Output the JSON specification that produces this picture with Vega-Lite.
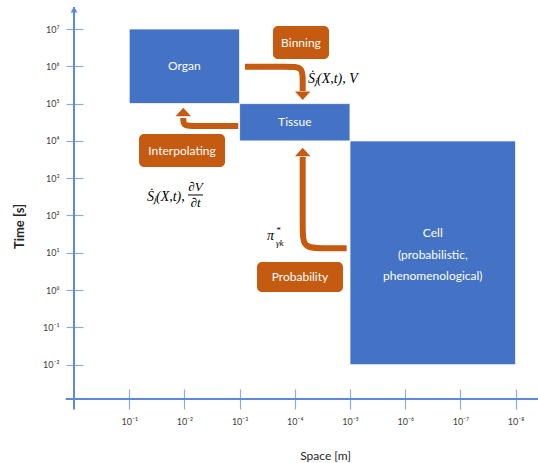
{
  "$schema": "https://vega.github.io/schema/vega-lite/v6.json",
  "width": 464,
  "height": 392,
  "autosize": {"type": "none"},
  "padding": {"left": 74, "top": 7, "right": 0, "bottom": 64},
  "background": "#ffffff",
  "config": {
    "view": {"stroke": null},
    "axis": {
      "labelFont": "Lato", "labelFontSize": 9, "labelColor": "#404040",
      "titleFont": "Lato", "titleFontSize": 12, "titleFontWeight": "normal", "titleColor": "#262626",
      "grid": false, "domain": false, "tickColor": "#8FAADC", "tickWidth": 1.2
    }
  },
  "datasets": {
    "vline": [{"space": 0, "time": 7.59, "time2": -3.2}],
    "hline": [{"space": 0.15, "space2": -8.406, "time": -2.92}],
    "yarrow": [{"space": 0, "time": 7.5}],
    "boxes": [
      {"name": "Organ", "space": -1, "space2": -3, "time": 5, "time2": 7},
      {"name": "Tissue", "space": -3, "space2": -5, "time": 4, "time2": 5},
      {"name": "Cell", "space": -5, "space2": -8, "time": -2, "time2": 4}
    ],
    "boxLabels": [
      {"label": "Organ", "space": -2, "time": 6},
      {"label": "Tissue", "space": -4, "time": 4.5},
      {"label": "Cell\n(probabilistic,\nphenomenological)", "space": -6.5, "time": 1.53}
    ],
    "tags": [
      {"label": "Binning", "space": -3.605, "space2": -4.62, "time": 7.08, "time2": 6.196},
      {"label": "Interpolating", "space": -1.178, "space2": -2.736, "time": 4.185, "time2": 3.3},
      {"label": "Probability", "space": -3.315, "space2": -4.873, "time": 0.753, "time2": -0.051}
    ],
    "tagLabels": [
      {"label": "Binning", "space": -4.112, "time": 6.638},
      {"label": "Interpolating", "space": -1.957, "time": 3.742},
      {"label": "Probability", "space": -4.094, "time": 0.351}
    ],
    "arrows": [
      {"arrow": "binning", "i": 0, "space": -3.098, "time": 5.989},
      {"arrow": "binning", "i": 1, "space": -3.899, "time": 5.989},
      {"arrow": "binning", "i": 2, "space": -4.143, "time": 5.989},
      {"arrow": "binning", "i": 3, "space": -4.143, "time": 5.614},
      {"arrow": "binning", "i": 4, "space": -4.143, "time": 5.338},
      {"arrow": "interpolating", "i": 0, "space": -2.976, "time": 4.399},
      {"arrow": "interpolating", "i": 1, "space": -2.161, "time": 4.399},
      {"arrow": "interpolating", "i": 2, "space": -1.98, "time": 4.399},
      {"arrow": "interpolating", "i": 3, "space": -1.98, "time": 4.614},
      {"arrow": "probability", "i": 0, "space": -4.94, "time": 1.121},
      {"arrow": "probability", "i": 1, "space": -4.505, "time": 1.121},
      {"arrow": "probability", "i": 2, "space": -4.143, "time": 1.121},
      {"arrow": "probability", "i": 3, "space": -4.143, "time": 1.657},
      {"arrow": "probability", "i": 4, "space": -4.143, "time": 3.568}
    ],
    "heads": [
      {"arrow": "binning", "dir": "down", "space": -4.143, "time": 5.209},
      {"arrow": "interpolating", "dir": "up", "space": -1.98, "time": 4.775},
      {"arrow": "probability", "dir": "up", "space": -4.143, "time": 3.702}
    ],
    "mathMain": [
      {"text": "Ṡⱼ(X,t), V", "space": -4.239, "time": 5.66},
      {"text": "Ṡⱼ(X,t),", "space": -1.322, "time": 2.509},
      {"text": "π", "space": -3.496, "time": 1.45}
    ],
    "mathFrac": [
      {"text": "∂V", "space": -2.201, "time": 2.772},
      {"text": "∂t", "space": -2.201, "time": 2.335}
    ],
    "fracBar": [{"space": -2.065, "space2": -2.337, "time": 2.55}],
    "mathSmall": [
      {"text": "*", "space": -3.66, "time": 1.611},
      {"text": "γk", "space": -3.659, "time": 1.263}
    ]
  },
  "encoding": {
    "x": {
      "field": "space", "type": "quantitative",
      "scale": {"domain": [-8.406, 0], "reverse": true, "nice": false, "zero": false},
      "axis": {
        "orient": "bottom", "values": [-1, -2, -3, -4, -5, -6, -7, -8],
        "labelExpr": "'10' + (datum.value < 0 ? '⁻' : '') + substring('⁰¹²³⁴⁵⁶⁷⁸⁹', abs(datum.value), abs(datum.value) + 1)",
        "offset": -10, "tickSize": 20, "labelPadding": 8,
        "title": "Space [m]", "titleX": 251, "titlePadding": 24
      }
    },
    "y": {
      "field": "time", "type": "quantitative",
      "scale": {"domain": [-2.92, 7.59], "nice": false, "zero": false},
      "axis": {
        "orient": "left", "values": [-2, -1, 0, 1, 2, 3, 4, 5, 6, 7],
        "labelExpr": "'10' + (datum.value < 0 ? '⁻' : '') + substring('⁰¹²³⁴⁵⁶⁷⁸⁹', abs(datum.value), abs(datum.value) + 1)",
        "offset": -9, "tickSize": 17, "labelPadding": 7,
        "title": "Time [s]", "titleY": 219, "titlePadding": 16,
        "titleFontSize": 13, "titleFontWeight": "bold"
      }
    }
  },
  "layer": [
    {
      "data": {"name": "vline"},
      "mark": {"type": "rule", "color": "#5B8BD5", "strokeWidth": 2},
      "encoding": {"y2": {"field": "time2"}}
    },
    {
      "data": {"name": "hline"},
      "mark": {"type": "rule", "color": "#5B8BD5", "strokeWidth": 2},
      "encoding": {"x2": {"field": "space2"}}
    },
    {
      "data": {"name": "yarrow"},
      "mark": {"type": "point", "filled": true, "color": "#5B8BD5", "opacity": 1, "shape": "M-1,0.6L1,0.6L0,-1Z", "size": 49},
      "encoding": {}
    },
    {
      "data": {"name": "boxes"},
      "mark": {"type": "rect", "color": "#4472C4", "stroke": "#ffffff", "strokeWidth": 0.8},
      "encoding": {"x2": {"field": "space2"}, "y2": {"field": "time2"}}
    },
    {
      "data": {"name": "boxLabels"},
      "mark": {"type": "text", "color": "#ffffff", "font": "Lato", "fontSize": 12, "lineBreak": "\n", "lineHeight": 21.5, "align": "center", "baseline": "middle"},
      "encoding": {"text": {"field": "label"}}
    },
    {
      "data": {"name": "tags"},
      "mark": {"type": "rect", "color": "#C55A11", "cornerRadius": 5},
      "encoding": {"x2": {"field": "space2"}, "y2": {"field": "time2"}}
    },
    {
      "data": {"name": "tagLabels"},
      "mark": {"type": "text", "color": "#ffffff", "font": "Lato", "fontSize": 12, "align": "center", "baseline": "middle"},
      "encoding": {"text": {"field": "label"}}
    },
    {
      "data": {"name": "arrows"},
      "mark": {"type": "line", "color": "#C55A11", "strokeWidth": 6, "interpolate": "basis", "strokeCap": "butt"},
      "encoding": {"order": {"field": "i", "type": "quantitative"}, "detail": {"field": "arrow"}}
    },
    {
      "data": {"name": "heads"},
      "mark": {"type": "point", "filled": true, "color": "#C55A11", "opacity": 1, "size": 240},
      "encoding": {
        "shape": {"field": "dir", "type": "nominal", "legend": null,
          "scale": {"domain": ["down", "up"], "range": ["M-1,-0.55L1,-0.55L0,0.55Z", "M-1,0.55L1,0.55L0,-0.55Z"]}}
      }
    },
    {
      "data": {"name": "mathMain"},
      "mark": {"type": "text", "color": "#000000", "font": "Liberation Serif", "fontStyle": "italic", "fontSize": 14, "align": "left", "baseline": "middle"},
      "encoding": {"text": {"field": "text"}}
    },
    {
      "data": {"name": "mathFrac"},
      "mark": {"type": "text", "color": "#000000", "font": "Liberation Serif", "fontStyle": "italic", "fontSize": 13, "align": "center", "baseline": "middle"},
      "encoding": {"text": {"field": "text"}}
    },
    {
      "data": {"name": "fracBar"},
      "mark": {"type": "rule", "color": "#000000", "strokeWidth": 1},
      "encoding": {"x2": {"field": "space2"}}
    },
    {
      "data": {"name": "mathSmall"},
      "mark": {"type": "text", "color": "#000000", "font": "Liberation Serif", "fontStyle": "italic", "fontSize": 9, "align": "left", "baseline": "middle"},
      "encoding": {"text": {"field": "text"}}
    }
  ]
}
